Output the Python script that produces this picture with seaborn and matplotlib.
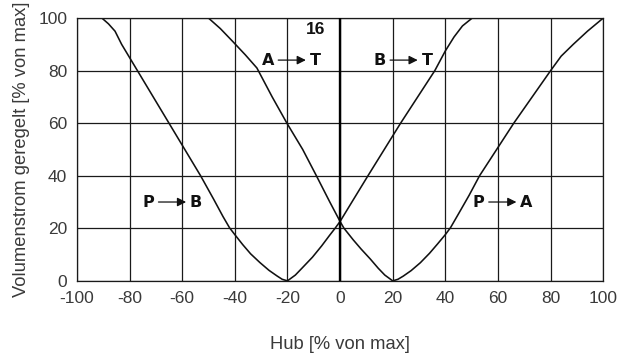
"""Volumenstrom-Kennlinie eines Wegeventils (Hub vs. Volumenstrom)."""

import matplotlib

matplotlib.use("Agg")

import matplotlib.pyplot as plt
import pandas as pd
import seaborn as sns

# Kennlinien
pb_hub = [-90.5, -88, -85.5, -83, -80, -77, -71, -65, -59, -53, -48, -44.5, -42,
          -40, -37, -34, -30.5, -27, -24, -22, -20]
pb_flow = [100, 97.8, 95, 90, 85, 80, 70, 60, 50, 40, 31, 24.5, 20.2,
           17.6, 13.8, 10.3, 7, 4, 1.9, 0.6, 0]

at_hub = [-50, -45.5, -40.7, -36, -31.6, -25.8, -20.2, -14.2, -9, -3.9, 0, 1.5, 5,
          8, 11.5, 14.5, 17, 20]
at_flow = [100, 96, 91, 86, 81, 70, 60, 50, 40, 30, 22.6, 20, 15.6,
           12.1, 8.3, 4.8, 2.2, 0]

bt_hub = [-20, -17, -14.5, -10.5, -7, -4, -1.9, 0, 4.5, 10.6, 16.8, 23, 29.5, 36,
          40, 43.3, 46.5, 50.2]
bt_flow = [0, 2.2, 4.8, 9, 13.3, 17.3, 20, 22.6, 30, 40, 50, 60, 70, 80,
           87.5, 92.8, 97, 100]

pa_hub = [20, 22, 24, 27, 30.5, 34, 37, 40, 42, 45, 49, 53, 59.5, 66, 73, 80, 84,
          88.6, 94, 100]
pa_flow = [0, 0.6, 1.8, 3.9, 6.9, 10.5, 14, 17.6, 20.3, 25.5, 32.5, 40, 50, 60, 70,
           80, 85.5, 90, 95, 100]

ticks = [-100, -80, -60, -40, -20, 0, 20, 40, 60, 80, 100]
y_ticks = [0, 20, 40, 60, 80, 100]

labels = [
    ("A", "T", -18.5, 84),
    ("B", "T", 24, 84),
    ("P", "B", -64, 30),
    ("P", "A", 61.5, 30),
]


def build_frame() -> pd.DataFrame:
    frames = []
    for name, hub, flow in [
        ("P-B", pb_hub, pb_flow),
        ("A-T", at_hub, at_flow),
        ("B-T", bt_hub, bt_flow),
        ("P-A", pa_hub, pa_flow),
    ]:
        part = pd.DataFrame({"hub": hub, "flow": flow})
        part["curve"] = name
        frames.append(part)
    return pd.concat(frames, ignore_index=True)


def main() -> None:
    sns.set_theme(style="white")
    plt.rcParams["font.family"] = ["Liberation Sans", "DejaVu Sans"]
    text_color = "#3a3a3a"

    fig = plt.figure(figsize=(6.2, 3.61), dpi=100)
    ax = fig.add_axes([0.124, 0.222, 0.849, 0.728])

    data = build_frame()
    for name, part in data.groupby("curve"):
        sns.lineplot(data=part, x="hub", y="flow", sort=False, color="#111111",
                     linewidth=1.15, ax=ax, legend=False)

    ax.set_xlim(-100, 100)
    ax.set_ylim(0, 100)
    ax.set_xticks(ticks)
    ax.set_yticks(y_ticks)
    ax.set_xticklabels([str(t) for t in ticks])
    ax.grid(True, color="#1a1a1a", linewidth=0.9)
    ax.axvline(0, color="black", linewidth=1.7, zorder=3)
    for spine in ax.spines.values():
        spine.set_color("#1a1a1a")
        spine.set_linewidth(0.9)
    ax.tick_params(axis="both", length=0, labelsize=12.5, labelcolor=text_color, pad=7)

    ax.set_xlabel("Hub [% von max]", fontsize=13.2, color=text_color, labelpad=22)
    ax.set_ylabel("Volumenstrom geregelt [% von max]", fontsize=13.2, color=text_color,
                  labelpad=6)

    for left, right, x, y in labels:
        ax.text(x - 9, y, left, ha="center", va="center", fontsize=11.5,
                fontweight="bold", color="#111111", family="DejaVu Sans Condensed")
        ax.text(x + 9, y, right, ha="center", va="center", fontsize=11.5,
                fontweight="bold", color="#111111", family="DejaVu Sans Condensed")
        ax.annotate("", xy=(x + 5.5, y), xytext=(x - 5, y),
                    arrowprops=dict(arrowstyle="-|>", color="#111111", lw=0.9,
                                    mutation_scale=13, shrinkA=0, shrinkB=0))

    ax.text(-9.5, 95.5, "16", ha="center", va="center", fontsize=12.5,
            fontweight="bold", color="#111111")

    fig.savefig("out.png", dpi=100)
    plt.close(fig)


if __name__ == "__main__":
    main()
